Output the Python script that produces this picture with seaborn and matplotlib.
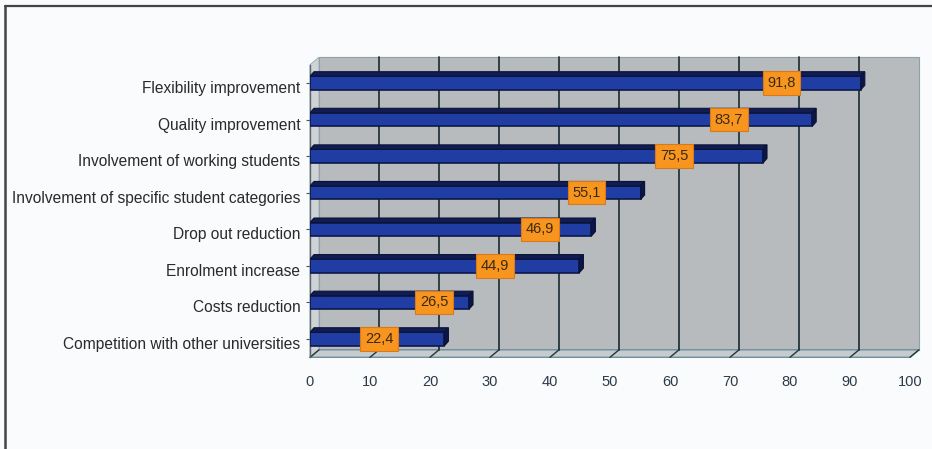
import matplotlib
matplotlib.use("Agg")
import matplotlib.pyplot as plt
import matplotlib.transforms as mtrans
from matplotlib.patches import Polygon
from matplotlib.lines import Line2D
import pandas as pd
import seaborn as sns

categories = ['Flexibility improvement', 'Quality improvement', 'Involvement of working students',
              'Involvement of specific student categories', 'Drop out reduction', 'Enrolment increase',
              'Costs reduction', 'Competition with other universities']
values = [91.8, 83.7, 75.5, 55.1, 46.9, 44.9, 26.5, 22.4]
x_ticks = [0, 10, 20, 30, 40, 50, 60, 70, 80, 90, 100]
# where the orange value boxes sit along the bar (hand placed in the original)
label_at = [78.6, 69.8, 60.7, 46.1, 38.3, 30.8, 20.7, 11.5]

df = pd.DataFrame({'cat': categories, 'val': values})

sns.set_style('white')
plt.rcParams['font.family'] = ['Liberation Sans', 'DejaVu Sans']

W, H = 932, 449
fig = plt.figure(figsize=(W / 100, H / 100), dpi=100, facecolor='#f9fbfd')
ax = fig.add_axes([310 / W, 91.7 / H, 600 / W, 292.6 / H])
ax.set_facecolor('none')

# frame of the original picture (top and left only)
fig.add_artist(Line2D([5 / W, 5 / W], [0, 1 - 6 / H], color='#444444', lw=1.8))
fig.add_artist(Line2D([5 / W, 1], [1 - 6 / H, 1 - 6 / H], color='#444444', lw=1.6))

# depth of the fake 3d box, in axes fractions
dx, dy = 9 / 600, 7.5 / 292.6
wall = Polygon([(dx, dy), (1 + dx, dy), (1 + dx, 1 + dy), (dx, 1 + dy)], closed=True,
               transform=ax.transAxes, facecolor='#b7bbbe', edgecolor='#8fa0a8', lw=0.8,
               clip_on=False, zorder=0)
floor = Polygon([(0, 0), (1, 0), (1 + dx, dy), (dx, dy)], closed=True, transform=ax.transAxes,
                facecolor='#c6ccce', edgecolor='#6f8d9a', lw=1.0, clip_on=False, zorder=0.5)
side = Polygon([(0, 0), (dx, dy), (dx, 1 + dy), (0, 1)], closed=True, transform=ax.transAxes,
               facecolor='#cfd3d5', edgecolor='#9aa6ab', lw=0.6, clip_on=False, zorder=0.5)
for p in (wall, floor, side):
    ax.add_patch(p)

for t in x_ticks:
    f = t / 100
    if 0 < t < 100:
        ax.plot([f + dx, f + dx], [dy, 1 + dy], transform=ax.transAxes, color='#24363c',
                lw=1.3, clip_on=False, zorder=1)
    ax.plot([f, f + dx], [0, dy], transform=ax.transAxes, color='#24363c', lw=1.0,
            clip_on=False, zorder=1)

sns.barplot(data=df, x='val', y='cat', orient='h', color='#1f3da3', edgecolor='#0d1848',
            linewidth=1.2, width=0.37, saturation=1, ax=ax, zorder=3)

# top face and end cap of each bar
ddx = 4 / 6.0
ddy = 4.5 / 36.6
for bar in list(ax.patches):
    if bar.get_zorder() != 3:
        continue
    x0, y0 = bar.get_x(), bar.get_y()
    w, h = bar.get_width(), bar.get_height()
    top = Polygon([(x0, y0), (x0 + w, y0), (x0 + w + ddx, y0 - ddy), (x0 + ddx, y0 - ddy)],
                  closed=True, facecolor='#101c52', edgecolor='#0a1236', lw=0.8, zorder=3)
    cap = Polygon([(x0 + w, y0), (x0 + w + ddx, y0 - ddy), (x0 + w + ddx, y0 + h - ddy),
                   (x0 + w, y0 + h)], closed=True, facecolor='#0c1646', edgecolor='#0a1236',
                  lw=0.8, zorder=3)
    ax.add_patch(top)
    ax.add_patch(cap)

for i, (v, pos) in enumerate(zip(values, label_at)):
    ax.text(pos, i, f'{v:.1f}'.replace('.', ','), ha='center', va='center', fontsize=10.5,
            color='#3b2a12', zorder=5,
            bbox=dict(boxstyle='square,pad=0.32', facecolor='#f7951f', edgecolor='#d9791a', lw=0.8))

ax.set_xlim(0, 100)
ax.set_ylim(7.5, -0.5)
ax.set_xticks(x_ticks)
ax.set_xticklabels([str(t) for t in x_ticks])
ax.set_xlabel('')
ax.set_ylabel('')
ax.tick_params(axis='x', length=0, pad=13, labelsize=10.5, labelcolor='#2d3a48')
ax.tick_params(axis='y', length=3, width=0.8, color='#555555', pad=4, labelsize=11.2,
               labelcolor='#2a2a2a', left=True)
# category names sit slightly lower than the bars in the original
shift = mtrans.ScaledTranslation(0, -4 / 100, fig.dpi_scale_trans)
for lab in ax.get_yticklabels():
    lab.set_transform(lab.get_transform() + shift)
for s in ('top', 'right', 'bottom'):
    ax.spines[s].set_visible(False)
ax.spines['left'].set_color('#55656b')
ax.spines['left'].set_linewidth(1.0)

fig.savefig('out.png', dpi=100, facecolor=fig.get_facecolor())
